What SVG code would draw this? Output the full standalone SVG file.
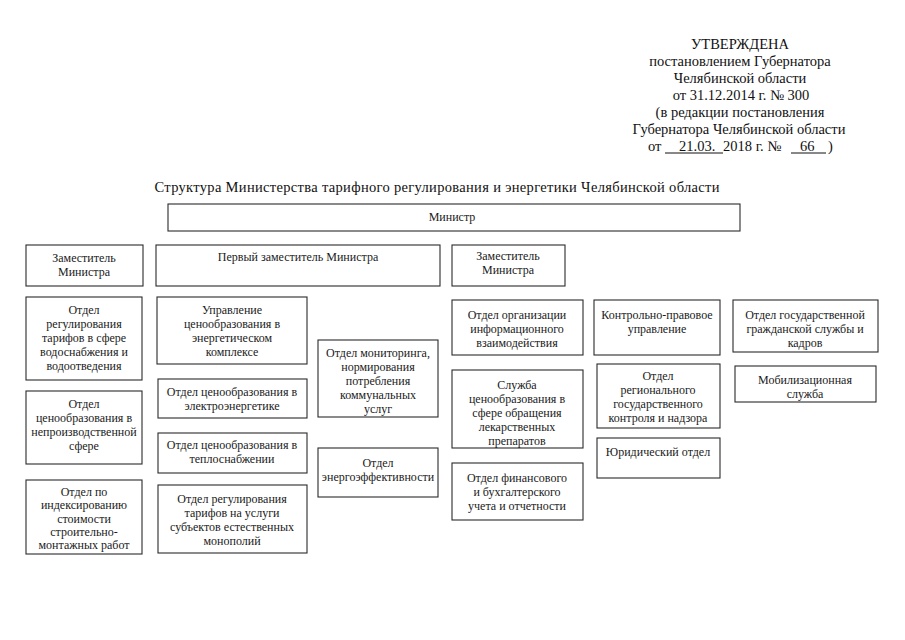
<svg xmlns="http://www.w3.org/2000/svg" width="905" height="640" viewBox="0 0 905 640">
<style>
.bg{fill:#ffffff}
.box{fill:#ffffff;stroke:#2a2a2a;stroke-width:1.1}
.t{font-family:"Liberation Serif","Times New Roman",serif;font-size:12px;fill:#1a1a1a;text-anchor:middle}
.h{font-family:"Liberation Serif","Times New Roman",serif;font-size:14.5px;fill:#111;text-anchor:middle}
.hl{font-family:"Liberation Serif","Times New Roman",serif;font-size:14.5px;fill:#111}
.ul{stroke:#111;stroke-width:1}
</style>
<rect class="bg" x="0" y="0" width="905" height="640"/>
<g id="header">
<text class="h" x="740" y="49">УТВЕРЖДЕНА</text>
<text class="h" x="740" y="66">постановлением Губернатора</text>
<text class="h" x="740" y="83">Челябинской области</text>
<text class="h" x="741" y="100">от 31.12.2014 г. № 300</text>
<text class="h" x="740" y="117">(в редакции постановления</text>
<text class="h" x="739" y="134">Губернатора Челябинской области</text>
<text class="hl" x="648" y="151">от</text>
<text class="hl" x="679" y="151">21.03.</text>
<line class="ul" x1="665" y1="153" x2="723" y2="153"/>
<text class="hl" x="723" y="151">2018 г. №</text>
<text class="hl" x="800" y="151">66</text>
<line class="ul" x1="791" y1="153" x2="826" y2="153"/>
<text class="hl" x="828" y="151">)</text>
</g>
<text class="h" x="437" y="192" font-size="15" textLength="565" lengthAdjust="spacing">Структура Министерства тарифного регулирования и энергетики Челябинской области</text>
<g id="connectors"></g>
<g id="minister"><rect class="box" x="168" y="204" width="572" height="27"/><text class="t" x="452" y="221">Министр</text></g>
<g id="deputy-left"><rect class="box" x="26" y="245" width="117" height="41"/><text class="t" x="84" y="262">Заместитель</text><text class="t" x="84" y="276">Министра</text></g>
<g id="first-deputy"><rect class="box" x="156" y="245" width="284" height="41"/><text class="t" x="298" y="261">Первый заместитель Министра</text></g>
<g id="deputy-right"><rect class="box" x="452" y="245" width="113" height="41"/><text class="t" x="508" y="260">Заместитель</text><text class="t" x="508" y="274">Министра</text></g>

<g id="water"><rect class="box" x="26" y="297" width="116" height="83"/><text class="t" x="84" y="314">Отдел</text><text class="t" x="84" y="328">регулирования</text><text class="t" x="84" y="342">тарифов в сфере</text><text class="t" x="84" y="356">водоснабжения и</text><text class="t" x="84" y="370">водоотведения</text></g>
<g id="nonprod"><rect class="box" x="26" y="391" width="116" height="73"/><text class="t" x="84" y="408">Отдел</text><text class="t" x="84" y="422">ценообразования в</text><text class="t" x="84" y="436">непроизводственной</text><text class="t" x="84" y="450">сфере</text></g>
<g id="index"><rect class="box" x="26" y="480" width="116" height="74"/><text class="t" x="84" y="495.5">Отдел по</text><text class="t" x="84" y="509">индексированию</text><text class="t" x="84" y="522.5">стоимости</text><text class="t" x="84" y="536">строительно-</text><text class="t" x="84" y="549">монтажных работ</text></g>

<g id="energy-dept"><rect class="box" x="157" y="297" width="150" height="67"/><text class="t" x="232" y="314">Управление</text><text class="t" x="232" y="328">ценообразования в</text><text class="t" x="232" y="342">энергетическом</text><text class="t" x="232" y="356">комплексе</text></g>
<g id="electro"><rect class="box" x="158" y="379" width="149" height="39"/><text class="t" x="232" y="396">Отдел ценообразования в</text><text class="t" x="232" y="410">электроэнергетике</text></g>
<g id="heat"><rect class="box" x="158" y="433" width="149" height="40"/><text class="t" x="232" y="449">Отдел ценообразования в</text><text class="t" x="232" y="463">теплоснабжении</text></g>
<g id="monopoly"><rect class="box" x="158" y="485" width="149" height="68"/><text class="t" x="232" y="503">Отдел регулирования</text><text class="t" x="232" y="517">тарифов на услуги</text><text class="t" x="232" y="531">субъектов естественных</text><text class="t" x="232" y="545">монополий</text></g>

<g id="monitoring"><rect class="box" x="318" y="340" width="120" height="77"/><text class="t" x="378" y="357">Отдел мониторинга,</text><text class="t" x="378" y="371">нормирования</text><text class="t" x="378" y="385">потребления</text><text class="t" x="378" y="399">коммунальных</text><text class="t" x="378" y="413">услуг</text></g>
<g id="efficiency"><rect class="box" x="318" y="448" width="120" height="49"/><text class="t" x="378" y="467">Отдел</text><text class="t" x="378" y="481">энергоэффективности</text></g>

<g id="info"><rect class="box" x="452" y="300" width="131" height="55"/><text class="t" x="517" y="319">Отдел организации</text><text class="t" x="517" y="333">информационного</text><text class="t" x="517" y="347">взаимодействия</text></g>
<g id="pharma"><rect class="box" x="452" y="370" width="131" height="78"/><text class="t" x="517" y="389">Служба</text><text class="t" x="517" y="403">ценообразования в</text><text class="t" x="517" y="417">сфере обращения</text><text class="t" x="517" y="431">лекарственных</text><text class="t" x="517" y="445">препаратов</text></g>
<g id="finance"><rect class="box" x="452" y="463" width="131" height="57"/><text class="t" x="517" y="482">Отдел финансового</text><text class="t" x="517" y="496">и бухгалтерского</text><text class="t" x="517" y="510">учета и отчетности</text></g>

<g id="control-legal"><rect class="box" x="594" y="300" width="126" height="55"/><text class="t" x="657" y="319">Контрольно-правовое</text><text class="t" x="657" y="333">управление</text></g>
<g id="regional"><rect class="box" x="597" y="364" width="123" height="64"/><text class="t" x="658" y="380">Отдел</text><text class="t" x="658" y="394">регионального</text><text class="t" x="658" y="408">государственного</text><text class="t" x="658" y="422">контроля и надзора</text></g>
<g id="legal"><rect class="box" x="597" y="438" width="123" height="40"/><text class="t" x="658" y="456">Юридический отдел</text></g>

<g id="hr"><rect class="box" x="733" y="300" width="145" height="52"/><text class="t" x="805" y="319">Отдел государственной</text><text class="t" x="805" y="333">гражданской службы и</text><text class="t" x="805" y="347">кадров</text></g>
<g id="mobil"><rect class="box" x="735" y="366" width="141" height="36"/><text class="t" x="805" y="384">Мобилизационная</text><text class="t" x="805" y="398">служба</text></g>
</svg>
